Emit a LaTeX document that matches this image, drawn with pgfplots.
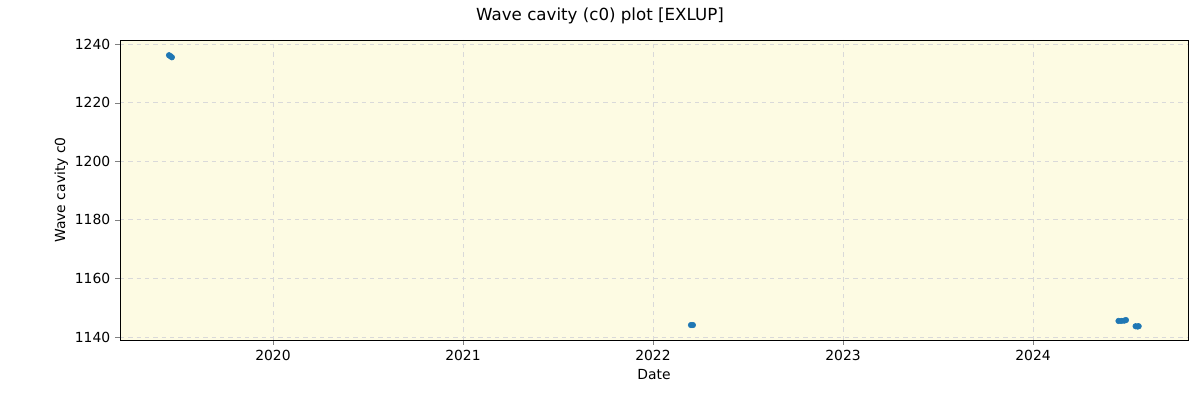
\documentclass[border=0pt]{standalone}
\usepackage{fontspec}
\setmainfont{DejaVu Sans}
\usepackage{pgfplots}
\pgfplotsset{compat=1.18}
\definecolor{bgyellow}{RGB}{253,251,227}
\definecolor{mplblue}{RGB}{31,119,180}
\begin{document}
\begin{tikzpicture}[x=1pt,y=1pt]
\path (-86.4,-43.2) rectangle (777.6,244.8);
\begin{axis}[
	at={(0,0)}, anchor=south west,
	scale only axis, width=769pt, height=216pt,
	xmin=2019.195, xmax=2024.816,
	ymin=1139, ymax=1241.4,
	axis background/.style={fill=bgyellow},
	xtick={2020,2021,2022,2023,2024},
	ytick={1140,1160,1180,1200,1220,1240},
	xticklabel style={/pgf/number format/1000 sep={}},
	yticklabel style={/pgf/number format/1000 sep={}},
	/pgf/number format/assume math mode=true,
	tick align=outside, major tick length=3.5pt,
	xtick pos=left, ytick pos=left,
	grid=major,
	major grid style={dashed, color=black!15, line width=0.6pt},
	ticklabel style={font=\fontsize{10}{12}\selectfont},
	xlabel={Date}, ylabel={Wave cavity c0},
	label style={font=\fontsize{10}{12}\selectfont},
	ylabel style={yshift=-2pt},
	]
\addplot[only marks, mark=*, mark size=2pt, color=mplblue] coordinates {
	(2019.453, 1236.2) (2019.460, 1235.9) (2019.468, 1235.5)
	(2022.200, 1144.1) (2022.210, 1144.1)
	(2024.450, 1145.5) (2024.465, 1145.5) (2024.480, 1145.6) (2024.489, 1145.8)
	(2024.540, 1143.7) (2024.550, 1143.6) (2024.556, 1143.7)
};
\end{axis}
\node[font=\fontsize{12}{14}\selectfont] at (345.6,233.3) {Wave cavity (c0) plot [EXLUP]};
\end{tikzpicture}
\end{document}
